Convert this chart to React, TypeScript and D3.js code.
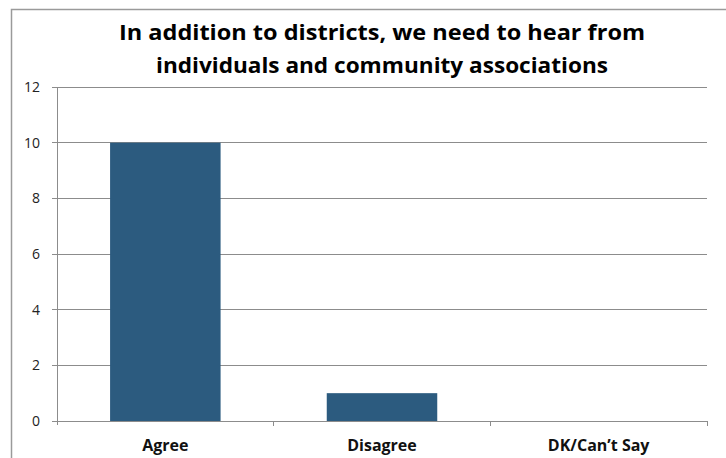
import React from "react";
import * as d3 from "d3";

const categories = ["Agree", "Disagree", "DK/Can\u2019t Say"];
const values = [10, 1, 0];
const yTicks = [0, 2, 4, 6, 8, 10, 12];
const titleLines = [
  "In addition to districts, we need to hear from",
  "individuals and community associations",
];

export default function App() {
  const W = 726, H = 458;
  const left = 57, right = 707, top = 87, bottom = 421;
  const x = d3.scaleBand<string>().domain(categories).range([left, right]).paddingInner(0.49).paddingOuter(0.245);
  const band = d3.scaleBand<string>().domain(categories).range([left, right]);
  const y = d3.scaleLinear().domain([0, 12]).range([bottom, top]);
  const font = "Open Sans, Liberation Sans, sans-serif";
  return (
    <svg width={W} height={H} style={{ position: "absolute", left: 0, top: 0, background: "#fff" }}>
      <rect x={11.5} y={9.5} width={730} height={460} fill="#fff" stroke="#9a9a9a" strokeWidth={1.5} />
      {titleLines.map((t, i) => (
        <text key={i} x={382} y={40 + i * 33} textAnchor="middle" fontFamily={font} fontWeight="bold" fontSize={22} textLength={i === 0 ? 526 : 452} lengthAdjust="spacingAndGlyphs" fill="#000">
          {t}
        </text>
      ))}
      {yTicks.map((t) => (
        <g key={t}>
          <line x1={left} x2={right} y1={y(t)} y2={y(t)} stroke="#8c8c8c" strokeWidth={1} shapeRendering="crispEdges" />
          <line x1={52} x2={left} y1={y(t)} y2={y(t)} stroke="#8c8c8c" strokeWidth={1} shapeRendering="crispEdges" />
          <text x={40} y={y(t)} dy="0.35em" textAnchor="end" fontFamily={font} fontSize={14} fill="#222">
            {t}
          </text>
        </g>
      ))}
      <line x1={left} x2={left} y1={top} y2={bottom + 4} stroke="#8c8c8c" strokeWidth={1} shapeRendering="crispEdges" />
      {categories.map((c) => (
        <line key={c + "t"} x1={(band(c) as number) + band.bandwidth()} x2={(band(c) as number) + band.bandwidth()} y1={bottom} y2={bottom + 5} stroke="#8c8c8c" strokeWidth={1} shapeRendering="crispEdges" />
      ))}
      {categories.map((c, i) => (
        <rect key={c} x={x(c)} y={y(values[i])} width={x.bandwidth()} height={bottom - y(values[i])} fill="#2c5b7f" />
      ))}
      {categories.map((c) => (
        <text key={c + "l"} x={(band(c) as number) + band.bandwidth() / 2} y={451} textAnchor="middle" fontFamily={font} fontWeight="bold" fontSize={16} fill="#111">
          {c}
        </text>
      ))}
    </svg>
  );
}
